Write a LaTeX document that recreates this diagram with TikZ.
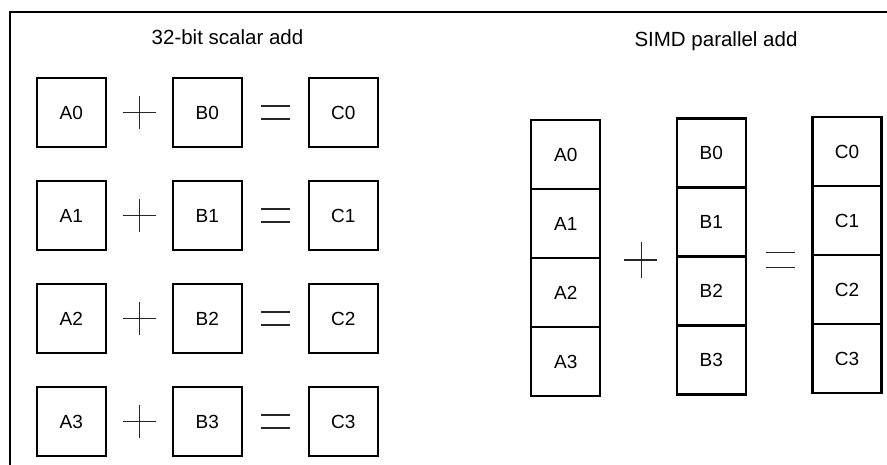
\documentclass[tikz,border=0pt]{standalone}
\usepackage{fontspec}
\setmainfont{Liberation Sans}
\usepackage{tikz}
\usetikzlibrary{positioning,calc}
\tikzset{
  x=1pt,y=-1pt,
  reg/.style={draw=black,line width=2.1pt,minimum size=69pt,inner sep=0pt,
    outer sep=0pt,font=\fontsize{19}{22}\selectfont},
  ttl/.style={font=\fontsize{20.5}{24}\selectfont,inner sep=0pt},
  opline/.style={line width=1.4pt,black!85},
  frameline/.style={line width=2pt},
}

\begin{document}
\begin{tikzpicture}
  \useasboundingbox (0,0) rectangle (887,465);
  \draw[frameline] (10,465) -- (10,12) -- (887,12);
  % scalar add, one register per operand
  \node[ttl] (lt) at (227.5,37) {32-bit scalar add};
  \foreach \i in {0,1,2,3} {
    \node[reg] (A\i) at (71.3,112.5+103*\i) {A\i};
    \node[reg] (B\i) at (207.3,112.5+103*\i) {B\i};
    \node[reg] (C\i) at (343.3,112.5+103*\i) {C\i};
    \coordinate (p\i) at ($(A\i.east)!0.5!(B\i.west)$);
    \coordinate (q\i) at ($(B\i.east)!0.5!(C\i.west)$);
    \draw[opline] ([xshift=-16.5pt]p\i) -- ([xshift=16.5pt]p\i)
                  ([yshift=-16.5pt]p\i) -- ([yshift=16.5pt]p\i);
    \draw[opline] ([xshift=-14.5pt,yshift=-6.5pt]q\i) -- ([xshift=14.5pt,yshift=-6.5pt]q\i)
                  ([xshift=-14.5pt,yshift=6.5pt]q\i) -- ([xshift=14.5pt,yshift=6.5pt]q\i);
  }
  % SIMD add, four lanes per register
  \node[ttl] (rt) at (716,41) {SIMD parallel add};
  \node[reg] (SA0) at (565.7,154.5) {A0};
  \node[reg] (SB0) at (711.2,153) {B0};
  \node[reg] (SC0) at (847,151.5) {C0};
  \foreach \i [count=\j from 1] in {0,1,2} {
    \node[reg,below=0pt of SA\i] (SA\j) {A\j};
    \node[reg,below=0pt of SB\i] (SB\j) {B\j};
    \node[reg,below=0pt of SC\i] (SC\j) {C\j};
  }
  \coordinate (sp) at ([xshift=2.2pt,yshift=-2.8pt]$(SA1.south east)!0.5!(SB1.south west)$);
  \coordinate (sq) at ([xshift=1pt,yshift=-4.3pt]$(SB1.south east)!0.5!(SC1.south west)$);
  \draw[opline] ([xshift=-16.5pt]sp) -- ([xshift=16.5pt]sp)
                ([xshift=1pt,yshift=-18pt]sp) -- ([xshift=1pt,yshift=18pt]sp);
  \draw[opline] ([xshift=-14.5pt,yshift=-7.3pt]sq) -- ([xshift=14.5pt,yshift=-7.3pt]sq)
                ([xshift=-14.5pt,yshift=7.3pt]sq) -- ([xshift=14.5pt,yshift=7.3pt]sq);
\end{tikzpicture}
\end{document}
